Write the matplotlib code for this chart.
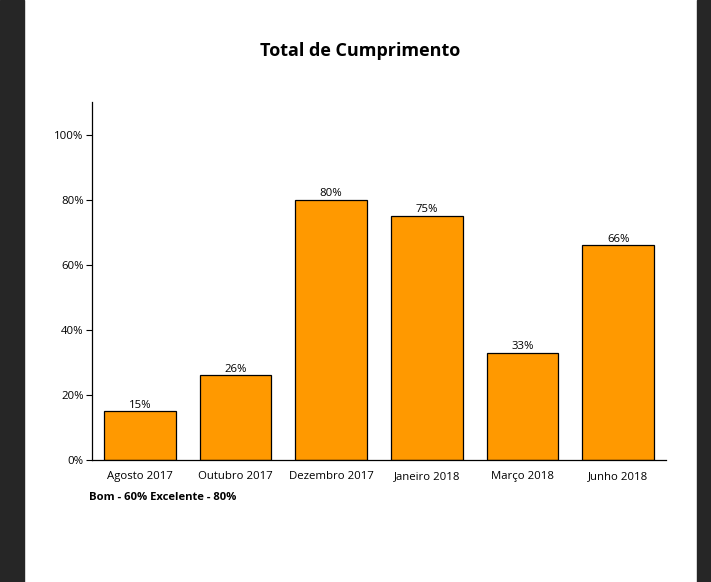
import matplotlib
matplotlib.use("Agg")
import matplotlib.pyplot as plt
from matplotlib.patches import Rectangle

categories = ["Agosto 2017", "Outubro 2017", "Dezembro 2017", "Janeiro 2018", "Março 2018", "Junho 2018"]
values = [15, 26, 80, 75, 33, 66]
yticks = [0, 20, 40, 60, 80, 100]
ytick_labels = ["0%", "20%", "40%", "60%", "80%", "100%"]

plt.rcParams['font.family'] = ['Open Sans', 'DejaVu Sans']

W, H = 711, 582
fig = plt.figure(figsize=(W/100, H/100), dpi=100)
fig.patch.set_facecolor("white")
fig.patches.append(Rectangle((0, 0), 24/W, 1, transform=fig.transFigure, color="#262626", zorder=0))
fig.patches.append(Rectangle((697/W, 0), 14/W, 1, transform=fig.transFigure, color="#262626", zorder=0))

left, right, top, bottom = 92, 666, 102, 460
ax = fig.add_axes([left/W, 1-bottom/H, (right-left)/W, (bottom-top)/H])
x = list(range(len(categories)))
bars = ax.bar(x, values, width=0.75, color="#ff9900", edgecolor="black", linewidth=0.9)
for xi, v in zip(x, values):
    ax.text(xi, v + 0.2, f"{v}%", ha="center", va="bottom", fontsize=8.2, color="black")

ax.set_xlim(-0.5, len(categories) - 0.5)
ax.set_ylim(0, 110)
ax.set_yticks(yticks)
ax.set_yticklabels(ytick_labels, fontsize=8.2, color="black")
ax.set_xticks(x)
ax.set_xticklabels(categories, fontsize=8.2, color="black")
ax.tick_params(axis="x", length=0, pad=8)
ax.tick_params(axis="y", length=4, width=0.8, pad=2)
for s in ["top", "right"]:
    ax.spines[s].set_visible(False)
for s in ["left", "bottom"]:
    ax.spines[s].set_linewidth(0.9)

fig.text(360/W, 1-51/H, "Total de Cumprimento", ha="center", va="center", fontsize=13, fontweight="bold")
fig.text(89/W, 1-497/H, "Bom - 60% Excelente - 80%", ha="left", va="center", fontsize=8.1, fontweight="bold")

fig.savefig("out.png", dpi=100)
